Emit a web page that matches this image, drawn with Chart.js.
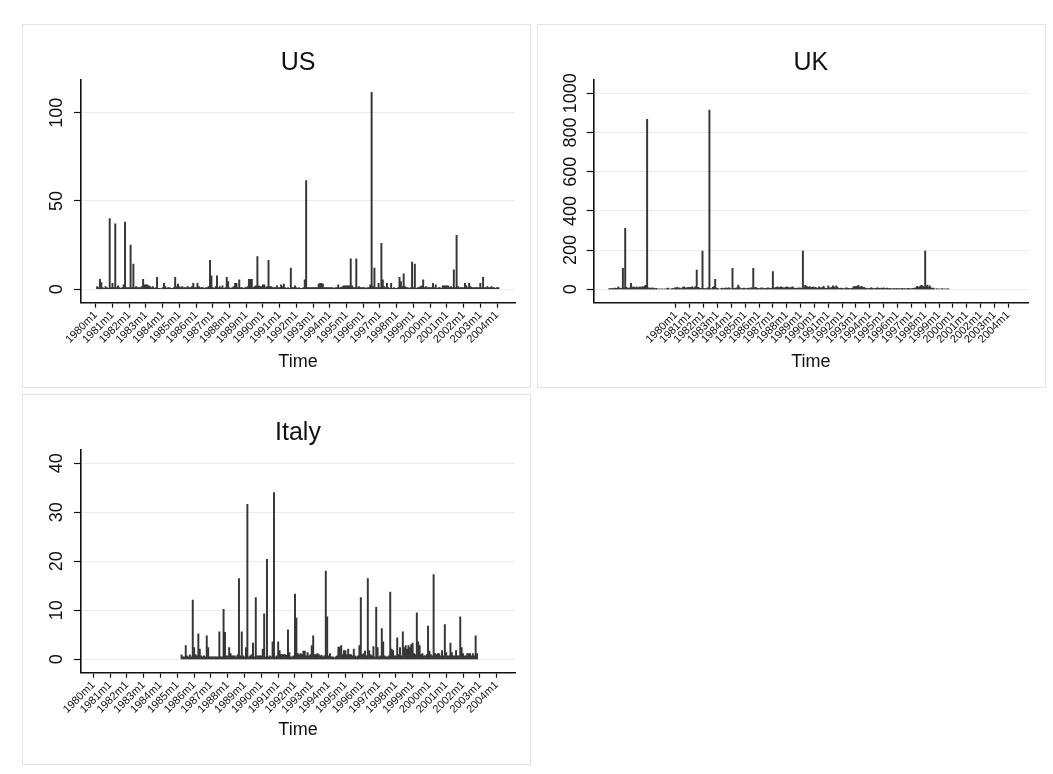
<!DOCTYPE html>
<html><head><meta charset="utf-8">
<script src="https://cdn.jsdelivr.net/npm/chart.js@4.4.1/dist/chart.umd.min.js"></script>
<style>
html,body{margin:0;padding:0;background:#fff;}
#wrap{position:relative;width:1053px;height:774px;background:#fff;overflow:hidden;}
.box{position:absolute;box-sizing:border-box;border:1px solid #e3e3e3;background:#fff;}
canvas{position:absolute;}
</style></head><body>
<div id="wrap">
  <div class="box" style="left:22px;top:24px;width:509px;height:364px;"></div>
  <div class="box" style="left:537px;top:24px;width:509px;height:364px;"></div>
  <div class="box" style="left:22px;top:394px;width:509px;height:371px;"></div>
  <canvas id="cUS" width="509" height="364" style="left:22px;top:24px;"></canvas>
  <canvas id="cUK" width="509" height="364" style="left:537px;top:24px;"></canvas>
  <canvas id="cIT" width="509" height="371" style="left:22px;top:394px;"></canvas>
</div>
<script>
// ---- data (monthly; x = months since 1980m1) ----
const timeTickLabels = ['1980m1','1981m1','1982m1','1983m1','1984m1','1985m1','1986m1','1987m1','1988m1','1989m1','1990m1','1991m1','1992m1','1993m1','1994m1','1995m1','1996m1','1997m1','1998m1','1999m1','2000m1','2001m1','2002m1','2003m1','2004m1'];

const usStart = 0; // 1980m1
const usValues = [
  null,1.5,1,5.7,3.8,1,0.5,1.5,1,0.5,40,1,
  3.4,1,37,1,2,1,0.5,1,2.5,38,1,1,
  1,25,1,14.3,1,1.5,1,1,1,1.5,5.7,2.5,
  2.5,2.5,2,1.5,1,1.5,0.5,1,6.7,0.5,0.5,0.3,
  1,3.4,1.5,0.5,1,1,0.5,0.5,1,6.7,1.5,3,
  1.5,1,1.5,1,1,1,1.5,1,1,1.5,3.4,1,
  1,3.4,1.5,1,1,1,0.5,1,1,1.5,16.4,7.6,
  1,0.5,1.5,7.6,1,1.5,1,2,0.5,1,6.7,4.4,
  1,0.5,1,1.5,3.4,3.4,1,5.3,1,1,0.5,1,
  1,1.5,5.7,5.7,5.7,1,1.5,2,18.5,2,1.5,1.5,
  2.5,2.5,1,1.5,16.4,1.5,1.5,1,1,1,2,1,
  1,2.5,1.5,3,1,0.5,1,0.5,12,1,1,2,
  1,0.5,1,0.5,0.5,1,5.3,61.5,1,1,1,1,
  1,1,1,1,3,3.4,3.4,3,1,1,1,1,
  1,1,1,0.5,1,1,2.5,1,1,1.5,2,2,
  2,2,2,17.3,2,1,1,17.3,1,1.5,1,1,
  1,1,0.5,1,1,2.5,111.5,1.5,12,1,1,3.4,
  1,26,5.3,1.5,1,3.4,1,0.5,3.4,0.5,1,0.5,
  0.5,1,6.7,4.4,1.5,8.8,1.5,1,1,0.5,1,15.4,
  1,14.3,0.5,1,1,1.5,2,5.3,1,1.5,1,1,
  1,1,3.4,1,2.5,0.5,1,1,0.5,2,2,2,
  2,2,1,1.5,1,11,1,30.5,1.5,1,1,1,
  1,3.4,2,1,3.4,1.5,1,1,1,1,1,1,
  3.4,1,6.7,1,1,1.5,1,1,1.5,1,1,0.5,
  1,1
];

const ukStart = -60; // 1975m1
const ukValues = [
  null,null,3,4,3,5,3,6,4,5,12,4,
  6,5,107,8,311,10,6,5,8,30,8,12,
  10,8,12,5,10,12,8,14,10,18,20,867,
  8,6,5,7,4,6,3,5,2,null,3,null,
  3,null,2,null,4,6,3,null,2,5,3,8,
  6,10,4,8,5,3,10,12,6,8,9,10,
  8,10,12,6,9,14,98,10,8,5,4,195,
  5,4,3,6,8,915,4,3,10,14,51,6,
  5,3,null,4,6,3,5,8,4,6,7,3,
  3,107,5,4,6,8,22,10,4,3,5,6,
  4,3,5,6,4,8,6,107,8,10,6,5,
  3,4,8,6,3,5,4,6,8,5,4,6,
  90,6,8,10,12,8,10,12,10,8,6,10,
  12,10,8,6,10,12,8,5,4,6,5,8,
  6,5,195,8,20,15,12,10,14,8,10,12,
  8,10,6,5,12,8,6,10,15,6,5,4,
  18,8,6,10,18,12,8,18,10,5,4,6,
  5,4,3,6,8,5,4,3,5,6,12,15,
  10,15,20,10,12,15,8,10,5,6,4,3,
  5,8,6,4,3,5,6,8,5,4,6,5,
  8,5,4,6,3,5,4,3,2,4,3,5,
  3,4,3,2,5,3,4,2,3,5,4,3,
  3,5,4,6,8,15,10,12,18,20,15,10,
  195,15,22,10,18,8,5,6,3,null,4,null,
  3,null,2,4,null,3,null,2,3
];

const italyStart = 60; // 1985m1
const italyValues = [
  null,null,null,0.9,0.5,0.5,2.8,0.7,0.5,0.9,0.5,12.1,
  2.4,1,0.7,5.2,2.1,0.7,0.5,0.7,0.5,4.8,2.4,0.5,
  0.5,0.5,0.5,0.5,0.5,0.5,5.6,0.5,0.5,10.2,5.5,0.7,
  0.7,2.4,1.2,0.7,0.7,0.7,0.5,0.9,16.5,0.7,5.6,0.7,
  0.5,2.4,31.6,0.5,0.7,1,3.3,0.5,12.6,0.7,0.7,0.7,
  0.7,2.1,9.3,0.5,20.4,0.5,0.7,0.5,3.6,34,0.5,0.7,
  3.6,1.8,1,1,1,1,0.8,6,1.4,0.5,0.5,0.7,
  13.3,8.4,1.2,1,1.2,1,1.7,1.7,0.7,1.4,0.7,1,
  2.8,4.8,1,1,1.2,1,0.7,0.8,0.5,0.7,18,8.7,
  0.7,1.2,0.5,0.5,0.3,0.5,0.7,2.5,2.5,2.8,1,1.8,
  1.8,1,2.1,1,1,0.7,2.1,0.7,0.5,0.7,2.8,12.6,
  1,1.2,1.7,0.7,16.5,1.8,1,0.7,2.6,0.5,10.6,2.4,
  0.5,0.7,6.3,3.6,0.7,0.5,0.5,0.7,13.7,2.1,1.8,0.7,
  0.7,4.4,1,2.4,0.7,5.6,2.4,2.8,2.1,2.8,2.4,3,
  3.3,1.2,1,9.5,3.6,2.8,1,1.2,0.7,0.7,1,6.8,
  1.7,1,0.7,17.3,1.2,1,1.2,1.2,0.7,1.8,0.7,7.1,
  1.4,0.7,0.7,3.3,1.4,0.7,0.7,1.8,0.7,0.7,8.7,2.4,
  1.2,0.7,0.7,1.2,1.2,1.2,0.7,1.2,0.7,4.8,1.2
];

const usYTicks = [0, 50, 100];
const ukYTicks = [0, 200, 400, 600, 800, 1000];
const italyYTicks = [0, 10, 20, 30, 40];

// ---- styling ----
const FONT = '"Liberation Sans", Arial, Helvetica, sans-serif';
const INK = '#111111';
const SPIKE = '#363636';
const YFONT = 18;

function widest(labels, size) {
  const c = document.createElement('canvas').getContext('2d');
  c.font = size + 'px ' + FONT;
  return Math.max(...labels.map(l => c.measureText(String(l)).width));
}

function makeChart(id, p) {
  const pts = [];
  p.values.forEach((v, i) => { if (v !== null) pts.push({x: p.start + i, y: v}); });
  const tickLen = 7;
  const yPad = p.yLabelOffset - tickLen - widest(p.yTicks, YFONT) / 2;
  new Chart(document.getElementById(id), {
    type: 'bar',
    data: { datasets: [{ data: pts, xAxisID: 'x', yAxisID: 'y', backgroundColor: SPIKE, borderWidth: 0, barThickness: 1.3 }] },
    options: {
      responsive: false, animation: false, devicePixelRatio: 1,
      layout: { padding: { left: 0, right: p.padRight, top: 0, bottom: 0 } },
      plugins: { legend: { display: false }, tooltip: { enabled: false }, title: { display: false } },
      scales: {
        x: {
          type: 'linear', position: 'bottom', min: p.xMin, max: p.xMax, offset: false,
          afterBuildTicks: s => { s.ticks = timeTickLabels.map((_, i) => ({ value: i * 12 })); },
          afterFit: s => { s.height = p.xHeight; },
          grid: { display: true, drawOnChartArea: false, drawTicks: true, tickLength: 5, tickColor: INK, tickWidth: 1.2, offset: false },
          border: { display: true, color: INK, width: 1.6 },
          ticks: { autoSkip: false, minRotation: 45, maxRotation: 45, padding: 1, color: INK,
                   font: { size: 11, family: FONT },
                   callback: v => timeTickLabels[Math.round(v / 12)] },
          title: { display: true, text: 'Time', color: INK, font: { size: 18, family: FONT }, padding: { top: 0, bottom: p.timePad } }
        },
        xTop: {
          type: 'linear', position: 'top', min: 0, max: 1,
          afterBuildTicks: s => { s.ticks = []; },
          afterFit: s => { s.height = 56; },
          grid: { display: false }, border: { display: false }, ticks: { display: false },
          title: { display: true, text: p.title, color: INK, font: { size: 25, family: FONT }, padding: { top: p.titlePad, bottom: 0 } }
        },
        y: {
          type: 'linear', min: p.yMin, max: p.yMax,
          afterBuildTicks: s => { s.ticks = p.yTicks.map(v => ({ value: v })); },
          afterFit: s => { s.width = p.yWidth; },
          grid: { color: '#ebebeb', lineWidth: 1, drawTicks: true, tickLength: tickLen, tickColor: INK, tickWidth: 1.2 },
          border: { display: true, color: INK, width: 1.6 },
          ticks: { minRotation: 90, maxRotation: 90, crossAlign: 'center', padding: yPad, color: INK,
                   font: { size: YFONT, family: FONT }, callback: v => String(v) }
        }
      }
    }
  });
}

makeChart('cUS', { title: 'US', values: usValues, start: usStart, yTicks: usYTicks,
  xMin: -10.6, xMax: 300.9, yMin: -7.6, yMax: 118.5,
  yWidth: 59, padRight: 16, xHeight: 85.3, timePad: 15.5, titlePad: 24.5, yLabelOffset: 23.5 });
makeChart('cUK', { title: 'UK', values: ukValues, start: ukStart, yTicks: ukYTicks,
  xMin: -71.3, xMax: 305.1, yMin: -68.4, yMax: 1068,
  yWidth: 56.7, padRight: 18, xHeight: 85.3, timePad: 15.5, titlePad: 24.5, yLabelOffset: 22.4 });
makeChart('cIT', { title: 'Italy', values: italyValues, start: italyStart, yTicks: italyYTicks,
  xMin: -8.8, xMax: 301.1, yMin: -2.72, yMax: 42.7,
  yWidth: 59, padRight: 16, xHeight: 92.3, timePad: 24.2, titlePad: 24, yLabelOffset: 23.5 });
</script>
</body></html>
